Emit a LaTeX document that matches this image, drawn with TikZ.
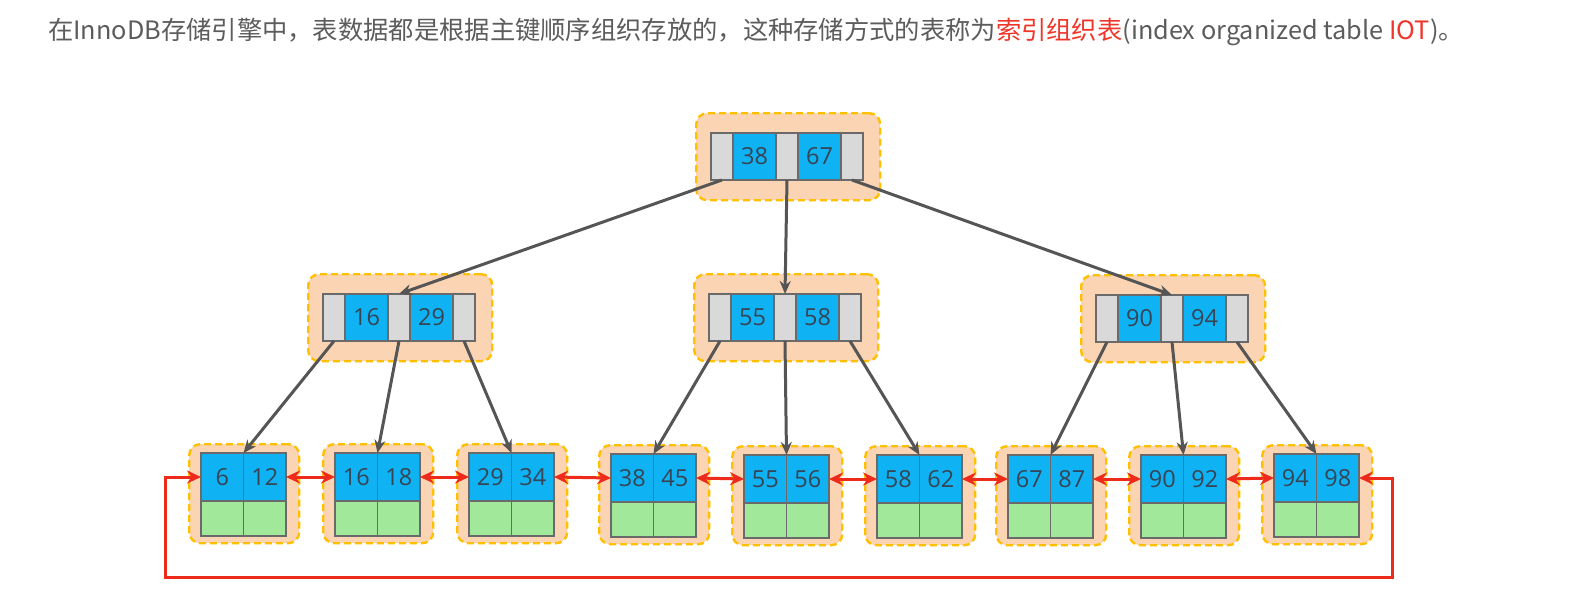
\documentclass[tikz,border=0pt]{standalone}
\usepackage{fontspec}
\setmainfont{Open Sans}
\newfontfamily\cjk{Noto Sans CJK SC}
\usetikzlibrary{arrows.meta}
\definecolor{peach}{HTML}{FBD4B4}
\definecolor{ygold}{HTML}{FFC000}
\definecolor{bcell}{HTML}{0FB2F2}
\definecolor{gcell}{HTML}{D9D9D9}
\definecolor{greencell}{HTML}{A1E89B}
\definecolor{cellline}{HTML}{6A6A6A}
\definecolor{numcol}{HTML}{364556}
\definecolor{arrowgray}{HTML}{555555}
\definecolor{linkred}{HTML}{EE2A1B}
\definecolor{titlegray}{HTML}{5C5C5C}
\definecolor{titlered}{HTML}{F0362A}
\tikzset{
  orangebox/.style={draw=ygold, dash pattern=on 7pt off 4pt, line width=2.4pt, fill=peach, rounded corners=11pt, inner sep=0pt, anchor=north west},
  cellbase/.style={draw=cellline, line width=1.4pt, inner sep=0pt, outer sep=0pt, anchor=north west, minimum height=47pt, font=\fontsize{23.5}{23.5}\selectfont, text=numcol},
  graycell/.style={cellbase, fill=gcell, minimum width=22pt},
  bluecell/.style={cellbase, fill=bcell, minimum width=43pt},
  leafblue/.style={cellbase, fill=bcell, minimum width=42.5pt, minimum height=48pt},
  leafgreen/.style={cellbase, fill=greencell, minimum width=42.5pt, minimum height=35pt},
  ptr/.style={draw=arrowgray, line width=3pt, -{Stealth[length=13pt,width=11pt]}},
  link/.style={draw=linkred, line width=3pt, {Stealth[length=14pt,width=13pt]}-{Stealth[length=14pt,width=13pt]}},
}
\newcommand\inode[5]{%
  \node[orangebox, minimum width=184pt, minimum height=87pt] (#1bg) at (#2-16,#3-21) {};
  \node[graycell] (#1g1) at (#2,#3) {};
  \node[bluecell] (#1a) at (#2+22,#3) {#4};
  \node[graycell] (#1g2) at (#2+65,#3) {};
  \node[bluecell] (#1b) at (#2+87,#3) {#5};
  \node[graycell] (#1g3) at (#2+130,#3) {};
}
\newcommand\lnode[5]{%
  \node[orangebox, minimum width=110pt, minimum height=99pt] (#1bg) at (#2-13,#3-10) {};
  \node[leafblue] (#1a) at (#2,#3) {#4};
  \node[leafblue] (#1b) at (#2+42.5,#3) {#5};
  \node[leafgreen] (#1c) at (#2,#3+48) {};
  \node[leafgreen] (#1d) at (#2+42.5,#3+48) {};
}
\begin{document}
\begin{tikzpicture}[x=1pt,y=-1pt]
\fill[white] (0,0) rectangle (1587,611);
\useasboundingbox (0,0) rectangle (1587,611);
\node[anchor=west, text=titlegray, font=\cjk\fontsize{25.3}{25.3}\selectfont, inner sep=0pt] (title) at (48,32)
  {在InnoDB存储引擎中，表数据都是根据主键顺序组织存放的，这种存储方式的表称为\textcolor{titlered}{索引组织表}(index organized table \textcolor{titlered}{IOT})。};
% internal nodes
\inode{T}{711}{133}{38}{67}
\inode{ML}{323}{294}{16}{29}
\inode{MM}{709}{294}{55}{58}
\inode{MR}{1096}{295}{90}{94}
% leaves
\lnode{La}{201}{453}{6}{12}
\lnode{Lb}{335}{453}{16}{18}
\lnode{Lc}{469}{453}{29}{34}
\lnode{Ld}{611}{454}{38}{45}
\lnode{Le}{744}{455}{55}{56}
\lnode{Lf}{877}{455}{58}{62}
\lnode{Lg}{1008}{455}{67}{87}
\lnode{Lh}{1141}{455}{90}{92}
\lnode{Li}{1274}{454}{94}{98}
% pointers
\draw[ptr] (Tg1.south) -- (MLg2.north);
\draw[ptr] (Tg2.south) -- (MMg2.north);
\draw[ptr] (Tg3.south) -- (MRg2.north);
\draw[ptr] (MLg1.south) -- (Laa.north east);
\draw[ptr] (MLg2.south) -- (Lba.north east);
\draw[ptr] (MLg3.south) -- (Lca.north east);
\draw[ptr] (MMg1.south) -- (Lda.north east);
\draw[ptr] (MMg2.south) -- (Lea.north east);
\draw[ptr] (MMg3.south) -- (Lfa.north east);
\draw[ptr] (MRg1.south) -- (Lga.north east);
\draw[ptr] (MRg2.south) -- (Lha.north east);
\draw[ptr] (MRg3.south) -- (Lia.north east);
% links
\draw[link] (Lab.east) -- (Lba.west);
\draw[link] (Lbb.east) -- (Lca.west);
\draw[link] (Lcb.east) -- (Lda.west);
\draw[link] (Ldb.east) -- (Lea.west);
\draw[link] (Leb.east) -- (Lfa.west);
\draw[link] (Lfb.east) -- (Lga.west);
\draw[link] (Lgb.east) -- (Lha.west);
\draw[link] (Lhb.east) -- (Lia.west);
\coordinate (loopR) at (1392,577);
\coordinate (loopL) at (165,577);
\draw[link] (Lib.east) -| (loopR) -- (loopL) |- (Laa.west);
\end{tikzpicture}
\end{document}
